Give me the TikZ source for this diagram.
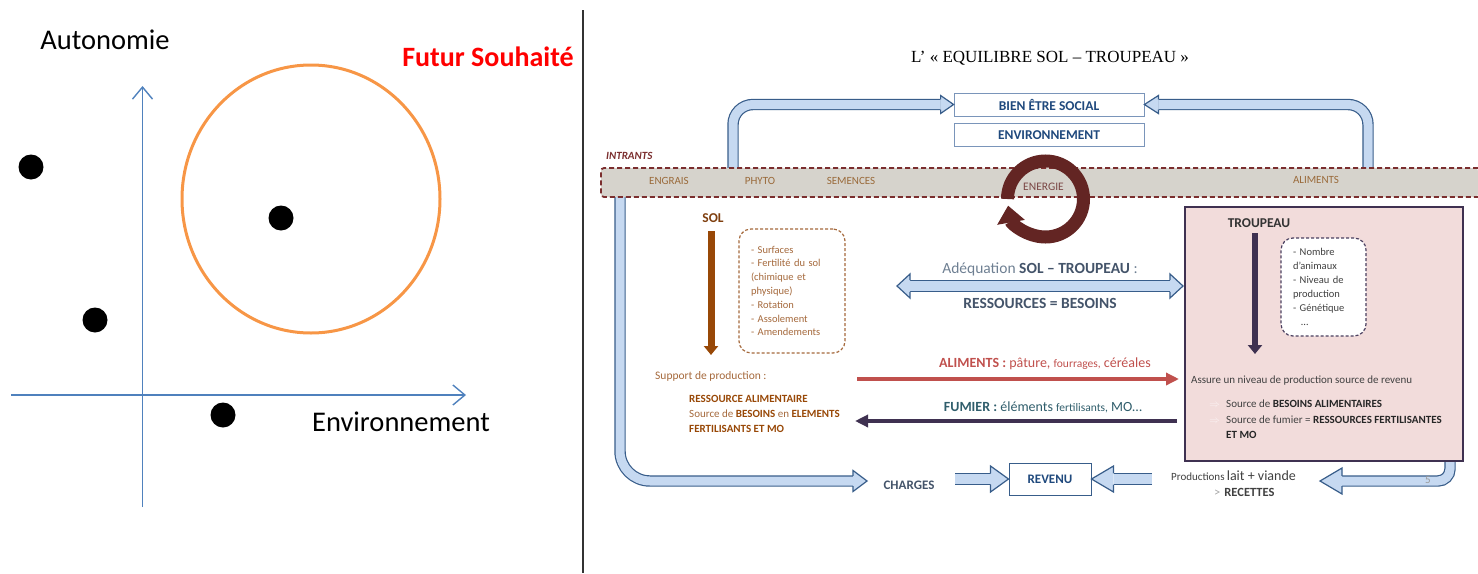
\documentclass[tikz,border=0pt]{standalone}
\usepackage{fontspec}
\setmainfont{Carlito}
\newfontfamily\titlefont{Liberation Serif}
\usepackage{tikz}
\usetikzlibrary{arrows.meta, positioning}

\definecolor{axisblue}{HTML}{4F81BD}
\definecolor{ringorange}{HTML}{F79646}
\definecolor{futurred}{HTML}{FF0000}
\definecolor{titleblue}{HTML}{1F497D}
\definecolor{boxline}{HTML}{7A95BA}
\definecolor{arrline}{HTML}{385D8A}
\definecolor{arrfill}{HTML}{C6D9F1}
\definecolor{bandfill}{HTML}{D6D3CC}
\definecolor{bandline}{HTML}{7B2E2E}
\definecolor{bandtext}{HTML}{9A6A3A}
\definecolor{energie}{HTML}{632523}
\definecolor{solbrown}{HTML}{984807}
\definecolor{soltext}{HTML}{A5693C}
\definecolor{soldark}{HTML}{7F3F0F}
\definecolor{slate}{HTML}{44546A}
\definecolor{slatelight}{HTML}{6E7F92}
\definecolor{alimred}{HTML}{C0504D}
\definecolor{fumierteal}{HTML}{2F5D6B}
\definecolor{fumierpurple}{HTML}{3F3151}
\definecolor{troufill}{HTML}{F2DCDB}
\definecolor{troutext}{HTML}{404040}
\definecolor{troudash}{HTML}{4A3F5F}
\definecolor{arrowpale}{HTML}{FBF3F3}

\newcommand{\fsz}[2]{\fontsize{#1}{#2}\selectfont}
\newcommand{\arrowmark}{\makebox[17pt][l]{\textcolor{arrowpale}{$\Rightarrow$}}}
% hollow head: tip, angle, half shaft, half head, length
\newcommand{\hhead}[5]{%
  \begin{scope}[shift={(#1)}, rotate=#2]
    \path[headstyle] (-#5pt,#3pt) -- (-#5pt,#4pt) -- (0pt,0pt) -- (-#5pt,-#4pt) -- (-#5pt,-#3pt);
  \end{scope}}

\tikzset{
  axis/.style={draw=axisblue, line width=1.4pt, -{Straight Barb[length=12pt, width=20pt]}},
  dot/.style={circle, fill=black, minimum size=25pt, inner sep=0pt},
  fatarrow/.style={draw=arrline, line width=1.2pt, double=arrfill, double distance=#1},
  headstyle/.style={fill=arrfill, draw=arrline, line width=1.2pt, line join=miter},
  labelbox/.style={draw=boxline, line width=0.8pt, fill=white, minimum width=190pt,
    minimum height=23pt, text=titleblue, font=\fsz{13.5}{16}\bfseries},
  dashbox/.style={draw=#1, line width=1.2pt, dash pattern=on 3pt off 2pt,
    rounded corners=12pt, fill=white, align=left, inner xsep=12pt},
  bandtxt/.style={text=bandtext, font=\fsz{11}{13}},
  solid arrow/.style={line width=#1, -{Triangle[length=9pt, width=14pt]}},
}

\begin{document}
\begin{tikzpicture}[x=1pt, y=-1pt, every node/.style={inner sep=0pt}]
\useasboundingbox (0,0) rectangle (1478,573);

%%%%%%%% left: autonomie / environnement %%%%%%%%
\coordinate (vo) at (142.5,507);
\coordinate (vt) at (142.5,86);
\coordinate (ho) at (11,395);
\coordinate (ht) at (466,395);
\draw[axis] (vo) -- (vt);
\draw[axis] (ho) -- (ht);
\draw[ringorange, line width=3pt] (311,199) ellipse [x radius=129, y radius=134];

\node (d1)[dot] at (31,167) {};
\node (d2)[dot] at (95,320) {};
\node (d3)[dot] at (281,218) {};
\node (d4)[dot] at (223,415) {};

\node (autonomie)[font=\fsz{28.5}{30}] at (105,40) {Autonomie};
\node (futur)[font=\fsz{28}{30}\bfseries, text=futurred] at (488,57) {Futur Souhaité};
\node (envlabel)[font=\fsz{28.5}{30}] at (401,422) {Environnement};

\draw[line width=1.5pt, black!80] (583,10) -- (583,573);

%%%%%%%% right: equilibre sol - troupeau %%%%%%%%
\node (title)[font=\titlefont\fsz{17}{20}] at (1050,58) {L’ «~EQUILIBRE SOL – TROUPEAU~»};

\node (bien)[labelbox] at (1049,104.5) {BIEN ÊTRE SOCIAL};
\node (env)[labelbox, below=7pt of bien] {ENVIRONNEMENT};
\node (revenu)[labelbox, minimum width=82pt, minimum height=32pt, draw=arrline,
  line width=1pt, font=\fsz{13}{15}\bfseries] at (1050,479) {REVENU};

% hollow arrows
\coordinate (c3) at (867,481);
\coordinate (c4) at (955,479);
\coordinate (c5) at (1152,479);
\coordinate (c6) at (1320,481);
\coordinate (adl) at (897,286);
\coordinate (adr) at (1183,286);

\draw[fatarrow=9pt, rounded corners=20pt] (733,175) |- ([xshift=-13pt]bien.west);
\hhead{bien.west}{0}{5.1}{9}{13}
\draw[fatarrow=9pt, rounded corners=20pt] (1368,175) |- ([xshift=14pt]bien.east);
\hhead{bien.east}{180}{5.1}{9}{14}
\draw[fatarrow=9pt, rounded corners=30pt] (620,190) |- ([xshift=-14pt]c3);
\hhead{c3}{0}{5.1}{10.5}{14}
\draw[fatarrow=10pt] (c4) -- ([xshift=-18pt]revenu.west);
\hhead{revenu.west}{0}{5.6}{13}{18}
\draw[fatarrow=10pt] (c5) -- ([xshift=22pt]revenu.east);
\hhead{revenu.east}{180}{5.6}{13}{22}
\draw[fatarrow=9pt, rounded corners=12pt] (1450,455) |- ([xshift=22pt]c6);
\hhead{c6}{180}{5.1}{13}{22}
\draw[fatarrow=10.5pt] ([xshift=13pt]adl) -- ([xshift=-13pt]adr);
\hhead{adl}{180}{5.8}{12}{13}
\hhead{adr}{0}{5.8}{12}{13}

% bande des intrants
\fill[bandfill, rounded corners=3pt] (601,168) rectangle (1478,197);
\draw[bandline, line width=1.8pt, dash pattern=on 5pt off 3pt, rounded corners=3pt]
  (1478,168) -- (601,168) -- (601,197) -- (1478,197);
\node (intrants)[anchor=west, text=bandline, font=\fsz{11}{13}\bfseries\itshape] at (606,156) {INTRANTS};
\node (engrais)[bandtxt] at (669,181) {ENGRAIS};
\node (phyto)[bandtxt] at (760,181) {PHYTO};
\node (semences)[bandtxt] at (851,181) {SEMENCES};
\node (aliments)[bandtxt] at (1316,180) {ALIMENTS};

\coordinate (ringc) at (1045.5,199);
\draw[energie, line width=13pt, -{Triangle[length=17pt, width=27pt]}]
  (ringc) ++(180:38) arc[start angle=180, end angle=530, radius=38];
\node (energie)[bandtxt, text=energie!85, font=\fsz{11.5}{13}] at (1043.5,187) {ENERGIE};

% sol
\node (sol)[text=soldark, font=\fsz{13.5}{15}\bfseries] at (713,218) {SOL};
\coordinate (solt) at (711,231);
\coordinate (solb) at (711,355);
\draw[solbrown, solid arrow=7pt] (solt) -- (solb);
\node (solbox)[dashbox=soltext, text width=82pt, minimum height=124pt, text=soltext,
  font=\fsz{10.5}{13.8}] at (792,291)
  {- Surfaces\\- Fertilité du sol\\(chimique et\\physique)\\- Rotation\\- Assolement\\- Amendements};
\node (support)[anchor=west, text=soltext, font=\fsz{11.5}{13}] at (655,376) {Support de production :};
\node (ressource)[anchor=west, align=left, text=solbrown, font=\fsz{11}{15}] at (689,414)
  {\textbf{RESSOURCE ALIMENTAIRE}\\
   \textcolor{soltext}{Source de} \textbf{BESOINS} \textcolor{soltext}{en} \textbf{ELEMENTS}\\
   \textbf{FERTILISANTS ET MO}};

% troupeau
\node (troupeau)[draw=fumierpurple, line width=2pt, fill=troufill, minimum width=278pt,
  minimum height=254pt] at (1324,334) {};
\node (troulabel)[text=troutext!80!black, font=\fsz{13.5}{15}\bfseries] at (1259,223) {TROUPEAU};
\coordinate (trout) at (1255,233);
\coordinate (troub) at (1255,354);
\draw[fumierpurple, solid arrow=6pt] (trout) -- (troub);
\node (troubox)[dashbox=troudash, text width=61pt, minimum height=98pt, text=troutext,
  font=\fsz{10.5}{14}] at (1323.5,287)
  {- Nombre\\d’animaux\\- Niveau de\\production\\- Génétique\\\hspace*{8pt}…};
\node (assure)[anchor=west, text=troutext, font=\fsz{11}{13}] at (1191,381)
  {Assure un niveau de production source de revenu};
\node (sources)[anchor=west, align=left, text=troutext, font=\fsz{11}{15.5}] at (1209,419.5)
  {\arrowmark Source de \textbf{\color{black!85}BESOINS ALIMENTAIRES}\\
   \arrowmark Source de fumier = \textbf{\color{black!85}RESSOURCES FERTILISANTES}\\
   \hspace*{17pt}\textbf{\color{black!85}ET MO}};

% adequation
\node (adequation)[text=slatelight, font=\fsz{15.5}{17}] at (1040,269)
  {Adéquation \textbf{\color{slate}SOL – TROUPEAU} :};
\node (egalite)[text=slate, font=\fsz{15.5}{17}\bfseries] at (1040,303) {RESSOURCES = BESOINS};

% flux
\coordinate (alims) at (857,379);
\coordinate (alime) at (1179,379);
\coordinate (fums) at (1177,421);
\coordinate (fume) at (855,421);
\draw[alimred, line width=3.5pt, -{Triangle[length=13pt, width=12pt]}] (alims) -- (alime);
\draw[fumierpurple, line width=3.5pt, -{Triangle[length=13pt, width=12pt]}] (fums) -- (fume);
\node (alimlabel)[text=alimred, font=\fsz{14}{16}] at (1045,364)
  {\textbf{ALIMENTS :} pâture, {\fsz{11.5}{13}fourrages,} céréales};
\node (fumlabel)[text=fumierteal, font=\fsz{14}{16}] at (1043,407)
  {\textbf{FUMIER :} éléments {\fsz{11.5}{13}fertilisants,} MO…};

% bas
\node (charges)[text=slate, font=\fsz{13}{15}\bfseries] at (909,485) {CHARGES};
\node (productions)[anchor=west, text=troutext] at (1171,476)
  {{\fsz{11}{13}Productions} {\fsz{14}{16}lait + viande}};
\node (recettes)[anchor=west, text=troutext, font=\fsz{12.5}{14}] at (1214,492)
  {\textcolor{black!35}{>}\hspace{4pt}\textbf{RECETTES}};
\node (pagenum)[text=black!40, font=\fsz{11}{13}] at (1428,480) {5};

\end{tikzpicture}
\end{document}
